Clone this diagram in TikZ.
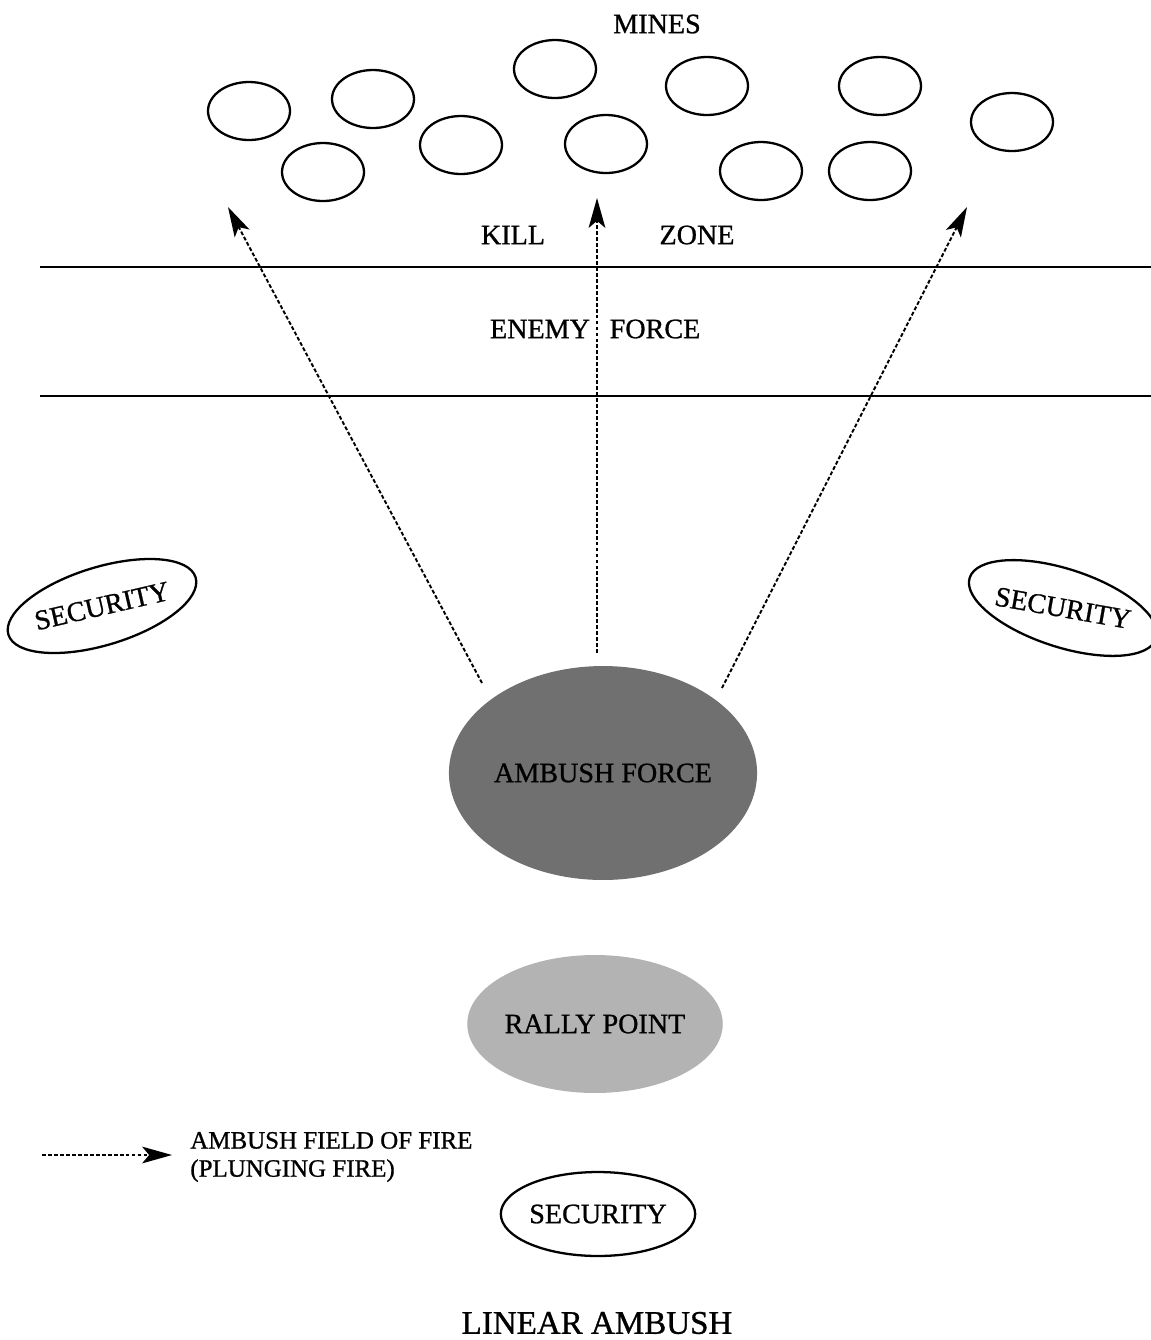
\documentclass[tikz,border=0pt]{standalone}
\usepackage{fontspec}
\setmainfont{Liberation Serif}[FakeBold=0.9]
\usetikzlibrary{arrows.meta,shapes.geometric}
\definecolor{forcegray}{HTML}{707070}
\definecolor{rallygray}{HTML}{B3B3B3}
\begin{document}
\begin{tikzpicture}[x=0.02cm,y=-0.02cm,
  lbl/.style={font=\fontsize{16}{19}\selectfont, inner sep=0pt},
  mine/.style={ellipse, draw, line width=1.3pt, inner sep=0pt,
    minimum width=1.64cm, minimum height=1.16cm},
  secbox/.style={ellipse, draw, line width=1.3pt, inner sep=0pt,
    minimum width=3.5cm, minimum height=1.6cm,
    font=\fontsize{16}{19}\selectfont},
  fire/.style={line width=1.1pt, dash pattern=on 2.2pt off 1.2pt,
    -{Stealth[length=17pt,width=9.5pt,inset=4pt]}},
  road/.style={line width=1.1pt}]

\useasboundingbox (0,0) rectangle (1151,1340);

% minefield
\node[lbl] (mines) at (657,24) {MINES};
\node[mine] (m1)  at (249,111) {};
\node[mine] (m2)  at (373,99)  {};
\node[mine] (m3)  at (323,172) {};
\node[mine] (m4)  at (461,145) {};
\node[mine] (m5)  at (555,69)  {};
\node[mine] (m6)  at (606,144) {};
\node[mine] (m7)  at (707,86)  {};
\node[mine] (m8)  at (761,171) {};
\node[mine] (m9)  at (880,86)  {};
\node[mine] (m10) at (870,171) {};
\node[mine] (m11) at (1012,122) {};

% kill zone and road
\node[lbl] (kill) at (513,235) {KILL};
\node[lbl] (zone) at (697,235) {ZONE};
\coordinate (r1a) at (40,267);
\coordinate (r1b) at (1151,267);
\coordinate (r2a) at (40,396);
\coordinate (r2b) at (1151,396);
\draw[road] (r1a) -- (r1b);
\draw[road] (r2a) -- (r2b);
\node[lbl] (enemy) at (540,329) {ENEMY};
\node[lbl] (eforce) at (655,329) {FORCE};

% ambush force and rally point
\node[ellipse, fill=forcegray, minimum width=6.16cm, minimum height=4.28cm,
      inner sep=0pt, font=\fontsize{16}{19}\selectfont] (ambush) at (603,773)
  {AMBUSH FORCE\hspace{0.24cm}};
\node[ellipse, fill=rallygray, minimum width=4.48cm, minimum height=2.76cm,
      inner sep=0pt, font=\fontsize{16}{19}\selectfont] (rally) at (595,1024) {RALLY POINT};

% security elements
\node[secbox, minimum width=3.8cm, minimum height=1.56cm, rotate=17] (secL) at (102,606)
  {\rotatebox{-4}{SECURITY}};
\node[secbox, minimum width=3.48cm, minimum height=1.56cm, rotate=-18] (secR) at (1063,608)
  {\rotatebox{8}{SECURITY}};
\node[secbox, minimum width=3.48cm, minimum height=1.68cm] (secB) at (598,1214) {SECURITY};

% fields of fire
\coordinate (fL) at (482,683);
\coordinate (fM) at (597,653);
\coordinate (fR) at (722,688);
\coordinate (tL) at (228,207);
\coordinate (tM) at (597,198);
\coordinate (tR) at (967,207);
\draw[fire] (fL) -- (tL);
\draw[fire] (fM) -- (tM);
\draw[fire] (fR) -- (tR);

% legend
\coordinate (k1) at (42,1155);
\coordinate (k2) at (172,1155);
\draw[fire] (k1) -- (k2);
\node[anchor=west, align=left, inner sep=0pt,
      font=\fontsize{14.2}{16}\selectfont] (key) at (190,1157)
  {AMBUSH FIELD OF FIRE\\(PLUNGING FIRE)};

% title
\node[inner sep=0pt, font=\fontsize{18.8}{22}\selectfont] (title) at (597,1323) {LINEAR AMBUSH};

\end{tikzpicture}
\end{document}
